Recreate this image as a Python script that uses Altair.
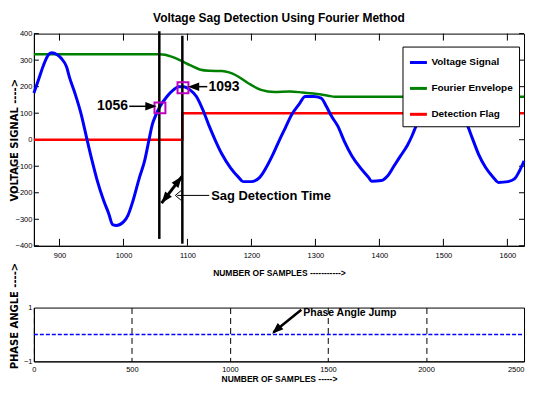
import altair as alt
import pandas as pd

NARROW = "Liberation Sans"
WIDE = "DejaVu Sans"

# ---------------- data ----------------
series_names = ["Voltage Signal", "Fourier Envelope", "Detection Flag"]
series_colors = ["#0000FF", "#008000", "#FF0000"]

volt_samples = [860, 868, 875, 883, 888, 896, 903, 911, 916, 924, 934, 943, 951, 959,
                969, 977, 983, 989, 1000, 1007, 1015, 1025, 1033, 1040, 1045, 1050, 1057,
                1068, 1078, 1086, 1094, 1104, 1114, 1124, 1134, 1144, 1154, 1167, 1180,
                1187, 1200, 1213, 1223, 1233, 1243, 1253, 1263, 1274, 1284, 1297, 1309,
                1317, 1325, 1335, 1345, 1357, 1370, 1383, 1388, 1403, 1413, 1423, 1433,
                1444, 1451, 1457, 1465, 1475, 1485, 1497, 1510, 1520, 1530, 1538, 1545,
                1555, 1566, 1578, 1586, 1601, 1611, 1619, 1626]
volt_values = [176, 232, 281, 321, 328, 321, 306, 275, 232, 176, 95, 1, -80, -154,
               -229, -279, -320, -323, -310, -285, -229, -142, -80, 1, 57, 90, 125,
               163, 188, 200, 200, 188, 163, 113, 51, -5, -55, -105, -142,
               -158, -158, -142, -105, -58, -5, 45, 95, 132, 163, 163, 157,
               126, 89, 51, -5, -61, -105, -142, -157, -154, -136, -98, -61,
               -20, 15, 50, 95, 130, 155, 165, 158, 130, 88, 51, 7,
               -55, -105, -142, -161, -158, -148, -117, -80]

env_samples = [860, 1056, 1065, 1075, 1088, 1104, 1119, 1134, 1154, 1165, 1175, 1195,
               1215, 1236, 1260, 1280, 1300, 1320, 1330, 1626]
env_values = [322, 322, 320, 313, 300, 281, 265, 260, 259, 254, 244, 213,
              188, 180, 182, 178, 173, 166, 162, 162]

flag_samples = [860, 1092, 1092, 1626]
flag_values = [0, 0, 100, 100]

top_x_ticks = [900, 1000, 1100, 1200, 1300, 1400, 1500, 1600]
top_y_ticks = [-400, -300, -200, -100, 0, 100, 200, 300, 400]
bot_x_ticks = [0, 500, 1000, 1500, 2000, 2500]
bot_y_ticks = [-1, 0, 1]

phase_samples = [0, 2500]
phase_values = [0, 0]

# detection instants
det_x = [1056, 1092]
det_top = [409, 392]
det_bottom = [-374, -392]
marker_x = [1057, 1093]
marker_y = [120, 196]

# annotation texts
ann_text = ["1056", "1093", "Sag Detection Time"]
ann_x = [1007, 1133, 1137]
ann_y = [126, 200, -211]
ann_size = [14, 14, 13]

# arrow shafts (top panel)
shaft_x = [1009, 1131, 1059.5, 1134]
shaft_y = [126, 200, -239, -210]
shaft_x2 = [1045, 1106, 1091.5, 1084]
shaft_y2 = [126, 200, -138, -210]
shaft_w = [1.5, 1.5, 3, 1]

# arrow heads (tip position and pointing angle)
head_x = [1051.9, 1100.6, 1091.5, 1059.5]
head_y = [126, 200, -138, -239]
head_angle = [90, 270, 38, 218]

chev_x = [1081]
chev_y = [-210]

# bottom panel annotation
pj_text = ["Phase Angle Jump"]
pj_x = [1374]
pj_y = [0.8]
pj_shaft_x = [1364]
pj_shaft_y = [0.92]
pj_shaft_x2 = [1222]
pj_shaft_y2 = [0.08]
pj_head_x = [1215]
pj_head_y = [0.03]
pj_head_angle = [228]

# ---------------- chart ----------------
W_TOP, H_TOP = 492, 213
W_BOT, H_BOT = 492, 54

xs_top = alt.Scale(domain=[860, 1626], nice=False, zero=False)
ys_top = alt.Scale(domain=[-400, 400], nice=False, zero=False)
xs_bot = alt.Scale(domain=[0, 2500], nice=False, zero=False)
ys_bot = alt.Scale(domain=[-1, 1], nice=False, zero=False)

LBL = dict(labelFont=NARROW, labelFontSize=7.5, labelColor="black", ticks=False,
           domainColor="black", labelOverlap=False)

x_axis_top = alt.Axis(values=top_x_ticks, format="d",
                      title="NUMBER OF SAMPLES ----------->",
                      titleFont=NARROW, titleFontSize=8.5, titleFontWeight="bold",
                      titleColor="black", titleY=23, titleBaseline="top",
                      labelPadding=6, grid=False, **LBL)
y_axis_top = alt.Axis(values=top_y_ticks, format="d", title="VOLTAGE SIGNAL ---->",
                      titleFont=WIDE, titleFontSize=10, titleFontWeight="bold",
                      titleColor="black", titleAngle=270, titleX=-16,
                      titleBaseline="alphabetic",
                      labelPadding=2, grid=False, **LBL)
x_axis_bot = alt.Axis(values=bot_x_ticks, format="d", title="NUMBER OF SAMPLES ----->",
                      titleFont=NARROW, titleFontSize=8.5, titleFontWeight="bold",
                      titleColor="black", titleY=13, titleBaseline="top",
                      labelPadding=4, grid=True, gridColor="black",
                      gridDash=[6, 4], gridWidth=1, gridOpacity=1,
                      labelAlign={"expr": "datum.value == 2500 ? 'right' : 'center'"},
                      **LBL)
y_axis_bot = alt.Axis(values=bot_y_ticks, format="d", title="PHASE ANGLE ---->",
                      titleFont=WIDE, titleFontSize=10, titleFontWeight="bold",
                      titleColor="black", titleAngle=270, titleX=-16, titleY=8,
                      titleBaseline="alphabetic",
                      labelPadding=2, grid=False, **LBL)

color_scale = alt.Scale(domain=series_names, range=series_colors)
legend = alt.Legend(title=None, orient="none", legendX=370, legendY=13,
                    direction="vertical", symbolType="stroke", symbolSize=289,
                    symbolStrokeWidth=3, labelFont=NARROW, labelFontSize=10,
                    labelFontWeight="bold", labelColor="black", strokeColor="black",
                    fillColor="white", padding=6, rowPadding=10, labelOffset=3)


def XT(f):
    return alt.X(f"{f}:Q", scale=xs_top, axis=x_axis_top)


def YT(f):
    return alt.Y(f"{f}:Q", scale=ys_top, axis=y_axis_top)


def XB(f):
    return alt.X(f"{f}:Q", scale=xs_bot, axis=x_axis_bot)


def YB(f):
    return alt.Y(f"{f}:Q", scale=ys_bot, axis=y_axis_bot)


def series_df(xs, ys, name):
    return pd.DataFrame({"sample": xs, "value": ys, "series": name,
                         "idx": list(range(len(xs)))})


def line_layer(d, width, interp):
    return alt.Chart(d).mark_line(strokeWidth=width, interpolate=interp).encode(
        x=XT("sample"), y=YT("value"),
        color=alt.Color("series:N", scale=color_scale, legend=legend),
        order="idx:Q")


flag_layer = line_layer(series_df(flag_samples, flag_values, series_names[2]), 2.5, "linear")
env_layer = line_layer(series_df(env_samples, env_values, series_names[1]), 2.5, "monotone")
volt_layer = line_layer(series_df(volt_samples, volt_values, series_names[0]), 3, "monotone")

det_layer = alt.Chart(pd.DataFrame({"sample": det_x, "value": det_top, "value2": det_bottom})
                      ).mark_rule(color="black", strokeWidth=2.5).encode(
    x=XT("sample"), y=YT("value"), y2="value2:Q")

marker_layer = alt.Chart(pd.DataFrame({"sample": marker_x, "value": marker_y})).mark_square(
    filled=False, size=120, strokeWidth=2, color="#BF00BF", opacity=1).encode(
    x=XT("sample"), y=YT("value"))

shaft_layer = alt.Chart(pd.DataFrame({"sample": shaft_x, "value": shaft_y,
                                      "sample2": shaft_x2, "value2": shaft_y2,
                                      "w": shaft_w})).mark_rule(color="black").encode(
    x=XT("sample"), y=YT("value"), x2="sample2:Q", y2="value2:Q",
    strokeWidth=alt.StrokeWidth("w:Q", scale=None))

ARROW = "M0,0L0.75,2L-0.75,2Z"
head_layer = alt.Chart(pd.DataFrame({"sample": head_x, "value": head_y,
                                     "angle": head_angle})).mark_point(
    shape=ARROW, filled=True, size=130, color="black", opacity=1).encode(
    x=XT("sample"), y=YT("value"), angle=alt.Angle("angle:Q", scale=None))

chev_layer = alt.Chart(pd.DataFrame({"sample": chev_x, "value": chev_y})).mark_point(
    shape="M1.2,-1L0,0L1.2,1", filled=False, size=90, color="black", strokeWidth=1,
    opacity=1).encode(x=XT("sample"), y=YT("value"))

ann_right = alt.Chart(pd.DataFrame({"sample": ann_x[:1], "value": ann_y[:1],
                                    "text": ann_text[:1]})).mark_text(
    font=NARROW, fontWeight="bold", color="black", baseline="middle", align="right",
    fontSize=ann_size[0]).encode(x=XT("sample"), y=YT("value"), text="text:N")
ann_left = alt.Chart(pd.DataFrame({"sample": ann_x[1:], "value": ann_y[1:],
                                   "text": ann_text[1:], "size": ann_size[1:]})).mark_text(
    font=NARROW, fontWeight="bold", color="black", baseline="middle", align="left").encode(
    x=XT("sample"), y=YT("value"), text="text:N", size=alt.Size("size:Q", scale=None))

tx = pd.DataFrame({"t": top_x_ticks})
ty = pd.DataFrame({"t": top_y_ticks})
tick_b = alt.Chart(tx).mark_rule(color="black", strokeWidth=1).encode(
    x=XT("t"), y=alt.value(H_TOP), y2=alt.value(H_TOP - 7))
tick_t = alt.Chart(tx).mark_rule(color="black", strokeWidth=1).encode(
    x=XT("t"), y=alt.value(0), y2=alt.value(7))
tick_l = alt.Chart(ty).mark_rule(color="black", strokeWidth=1).encode(
    y=YT("t"), x=alt.value(0), x2=alt.value(5))
tick_r = alt.Chart(ty).mark_rule(color="black", strokeWidth=1).encode(
    y=YT("t"), x=alt.value(W_TOP), x2=alt.value(W_TOP - 5))

top = alt.layer(
    tick_b, tick_t, tick_l, tick_r,
    flag_layer, env_layer, volt_layer, det_layer, marker_layer,
    shaft_layer, head_layer, chev_layer, ann_right, ann_left,
).properties(
    width=W_TOP, height=H_TOP,
    title=alt.TitleParams("Voltage Sag Detection Using Fourier Method", font=NARROW,
                          fontSize=12, fontWeight="bold", color="black",
                          anchor="middle", frame="group", offset=5),
)

phase_layer = alt.Chart(pd.DataFrame({"sample": phase_samples, "value": phase_values})
                        ).mark_line(color="#0000FF", strokeWidth=1.5,
                                    strokeDash=[4, 2]).encode(
    x=XB("sample"), y=YB("value"))
pj_shaft = alt.Chart(pd.DataFrame({"sample": pj_shaft_x, "value": pj_shaft_y,
                                   "sample2": pj_shaft_x2, "value2": pj_shaft_y2})
                     ).mark_rule(color="black", strokeWidth=2.5).encode(
    x=XB("sample"), y=YB("value"), x2="sample2:Q", y2="value2:Q")
pj_head = alt.Chart(pd.DataFrame({"sample": pj_head_x, "value": pj_head_y,
                                  "angle": pj_head_angle})).mark_point(
    shape=ARROW, filled=True, size=130, color="black", opacity=1).encode(
    x=XB("sample"), y=YB("value"), angle=alt.Angle("angle:Q", scale=None))
pj_label = alt.Chart(pd.DataFrame({"sample": pj_x, "value": pj_y, "text": pj_text})
                     ).mark_text(font=NARROW, fontWeight="bold", fontSize=10.5,
                                 color="black", align="left", baseline="middle").encode(
    x=XB("sample"), y=YB("value"), text="text:N")

bottom = alt.layer(phase_layer, pj_shaft, pj_head, pj_label).properties(
    width=W_BOT, height=H_BOT)

chart = alt.vconcat(top, bottom, spacing=62, bounds="flush").properties(
    padding={"left": 1, "top": 2, "right": 0, "bottom": 0},
).configure(background="white").configure_view(stroke="black", strokeWidth=1)

chart.save("out.html", embed_options={"renderer": "svg", "actions": False})
